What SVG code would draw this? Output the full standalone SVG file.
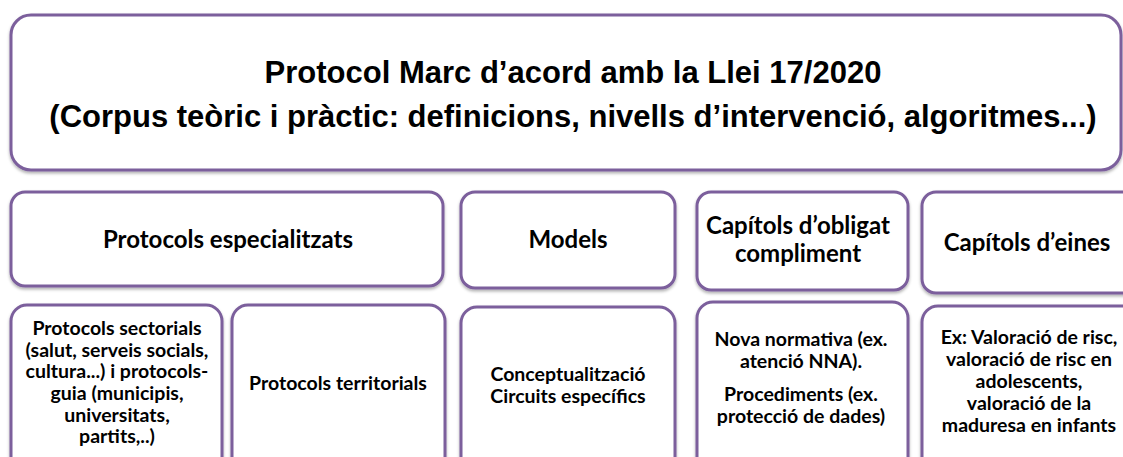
<svg xmlns="http://www.w3.org/2000/svg" width="1123" height="457" viewBox="0 0 1123 457">
<defs>
<filter id="sh" x="-5%" y="-5%" width="110%" height="120%">
<feDropShadow dx="0" dy="2" stdDeviation="1.5" flood-color="#000" flood-opacity="0.3"/>
</filter>
<style>
.box{fill:#fff;stroke:#7b5f9c;stroke-width:3;filter:url(#sh)}
.t1{font-family:"Liberation Sans",Arial,sans-serif;font-weight:bold;font-size:31px;fill:#000;text-anchor:middle}
.t2{font-family:Lato,"Open Sans",sans-serif;font-weight:bold;font-size:24px;fill:#000;text-anchor:middle}
.t3{font-family:Lato,"Open Sans",sans-serif;font-weight:bold;font-size:19.5px;fill:#000;text-anchor:middle}
</style>
</defs>
<rect width="1123" height="457" fill="#fff"/>
<g id="top">
<rect class="box" x="11" y="15" width="1110" height="155" rx="20"/>
<text class="t1" x="573" y="83">Protocol Marc d’acord amb la Llei 17/2020</text>
<text class="t1" x="573" y="127">(Corpus teòric i pràctic: definicions, nivells d’intervenció, algoritmes...)</text>
</g>
<g id="especialitzats">
<rect class="box" x="11" y="192" width="432" height="94" rx="14"/>
<text class="t2" x="228" y="248">Protocols especialitzats</text>
</g>
<g id="models">
<rect class="box" x="461" y="192" width="214" height="96" rx="14"/>
<text class="t2" x="568" y="248">Models</text>
</g>
<g id="obligat">
<rect class="box" x="697" y="192" width="211" height="98" rx="14"/>
<text class="t2" x="798" y="234">Capítols d’obligat</text>
<text class="t2" x="798" y="262">compliment</text>
</g>
<g id="eines">
<rect class="box" x="922" y="192" width="220" height="101" rx="14"/>
<text class="t2" x="1027" y="251">Capítols d’eines</text>
</g>
<g id="sectorials">
<rect class="box" x="11" y="305" width="211" height="170" rx="16"/>
<text class="t3" x="117" y="335">Protocols sectorials</text>
<text class="t3" x="117" y="357">(salut, serveis socials,</text>
<text class="t3" x="117" y="378">cultura...) i protocols-</text>
<text class="t3" x="117" y="400">guia (municipis,</text>
<text class="t3" x="117" y="422">universitats,</text>
<text class="t3" x="117" y="443">partits,..)</text>
</g>
<g id="territorials">
<rect class="box" x="232" y="305" width="213" height="170" rx="16"/>
<text class="t3" x="338" y="390">Protocols territorials</text>
</g>
<g id="conceptualitzacio">
<rect class="box" x="461" y="307" width="214" height="170" rx="16"/>
<text class="t3" x="568" y="381">Conceptualització</text>
<text class="t3" x="568" y="403">Circuits específics</text>
</g>
<g id="normativa">
<rect class="box" x="697" y="302" width="211" height="175" rx="16"/>
<text class="t3" x="801" y="346">Nova normativa (ex.</text>
<text class="t3" x="801" y="368">atenció NNA).</text>
<text class="t3" x="801" y="401">Procediments (ex.</text>
<text class="t3" x="801" y="423">protecció de dades)</text>
</g>
<g id="exemples">
<rect class="box" x="922" y="306" width="220" height="170" rx="16"/>
<text class="t3" x="1029" y="344">Ex: Valoració de risc,</text>
<text class="t3" x="1029" y="366">valoració de risc en</text>
<text class="t3" x="1029" y="388">adolescents,</text>
<text class="t3" x="1029" y="410">valoració de la</text>
<text class="t3" x="1029" y="432">maduresa en infants</text>
</g>
<g id="connectors"/>
</svg>
